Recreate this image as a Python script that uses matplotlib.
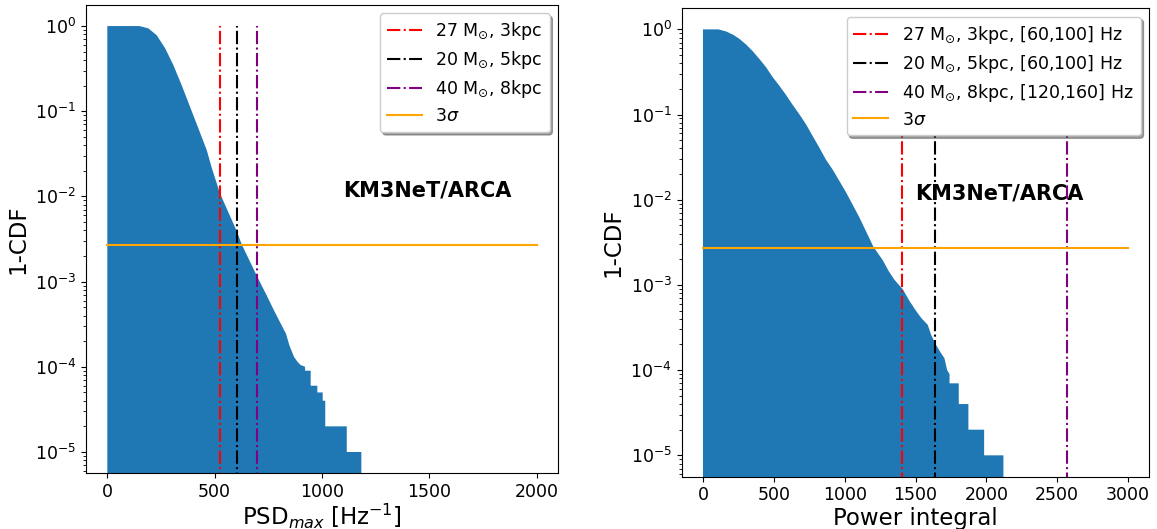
import matplotlib
matplotlib.use("Agg")
import matplotlib.pyplot as plt

# ---- data (1-CDF curves, outline vertices) ----
psd_x = [0, 150, 191, 230, 269, 307, 346, 385, 424, 463, 486, 525, 603, 626,
         699, 742, 776, 804, 832, 848, 870, 885, 900, 921, 921, 947, 947,
         978, 978, 1003, 1003, 1015, 1015, 1115, 1115, 1183]
psd_surv = [1.0, 1.0, 0.94, 0.78, 0.55, 0.35, 0.203, 0.113, 0.063, 0.035,
            0.0218, 0.0108, 0.0039, 0.00273, 0.00113, 6.9e-4, 4.6e-4, 3.35e-4,
            2.45e-4, 1.78e-4, 1.3e-4, 1.15e-4, 1.05e-4, 1.0e-4, 9e-5, 9e-5,
            6e-5, 6e-5, 5e-5, 5e-5, 4e-5, 4e-5, 2e-5, 2e-5, 1e-5, 1e-5]

pow_x = [0, 110, 164, 210, 257, 304, 351, 398, 445, 492, 539, 586, 633, 680,
         727, 774, 821, 868, 916, 1010, 1104, 1203, 1269, 1311, 1351, 1410,
         1457, 1504, 1540, 1586, 1610, 1643, 1680, 1704, 1723, 1740, 1740,
         1805, 1805, 1873, 1873, 1984, 1984, 2120]
pow_surv = [1.0, 1.0, 0.945, 0.87, 0.775, 0.665, 0.555, 0.45, 0.36, 0.275,
            0.218, 0.17, 0.13, 0.101, 0.077, 0.056, 0.041, 0.0295, 0.0225,
            0.0122, 6.2e-3, 2.8e-3, 1.95e-3, 1.45e-3, 1.15e-3, 8.9e-4, 6.5e-4,
            4.95e-4, 4.1e-4, 3.4e-4, 2.6e-4, 2.0e-4, 1.58e-4, 1.38e-4, 1.0e-4,
            9e-5, 7e-5, 7e-5, 4e-5, 4e-5, 2e-5, 2e-5, 1e-5, 1e-5]

psd_signal = [525, 603, 697]
pow_signal = [1408, 1640, 2566]
signal_colors = ["red", "black", "purple"]
psd_labels = [r"27 M$_{\odot}$, 3kpc", r"20 M$_{\odot}$, 5kpc",
              r"40 M$_{\odot}$, 8kpc"]
pow_labels = [r"27 M$_{\odot}$, 3kpc, [60,100] Hz",
              r"20 M$_{\odot}$, 5kpc, [60,100] Hz",
              r"40 M$_{\odot}$, 8kpc, [120,160] Hz"]
three_sigma = 1 - 0.9973
psd_range = [0, 2000]
pow_range = [0, 3000]
psd_ticks = [0, 500, 1000, 1500, 2000]
pow_ticks = [0, 500, 1000, 1500, 2000, 2500, 3000]

YMIN, YMAX = 10 ** -5.25, 10 ** 0.25

fig = plt.figure(figsize=(11.57, 5.29), dpi=100)
ax1 = fig.add_axes([0.0742, 0.1053, 0.4083, 0.8857])
ax2 = fig.add_axes([0.5892, 0.0990, 0.4042, 0.8857])


def panel(ax, x, surv, sig, labels, xr, ticks, xlabel, tx, lpad):
    ax.set_yscale("log")
    ax.fill_between(x, surv, 1e-8, color="#1f77b4", linewidth=0)
    for xs, c, lab in zip(sig, signal_colors, labels):
        ax.plot([xs, xs], [1e-8, 1.0], color=c, linestyle="-.", lw=1.5,
                label=lab)
    ax.plot(xr, [three_sigma, three_sigma], color="orange", lw=1.5,
            label=r"3$\sigma$")
    ax.set_ylim(YMIN, YMAX)
    span = xr[1] - xr[0]
    ax.set_xlim(xr[0] - 0.05 * span, xr[1] + 0.05 * span)
    ax.set_xticks(ticks)
    ax.tick_params(labelsize=12.5)
    ax.set_xlabel(xlabel, fontsize=16.5, labelpad=lpad)
    ax.set_ylabel("1-CDF", fontsize=16.5)
    ax.text(tx, 1e-2, "KM3NeT/ARCA", fontsize=15, fontweight="bold")
    ax.legend(loc="upper right", shadow=True, fontsize=12.5,
              labelspacing=0.4)


panel(ax1, psd_x, psd_surv, psd_signal, psd_labels, psd_range, psd_ticks,
      r"PSD$_{max}$ [Hz$^{-1}$]", 1100, 0.5)
panel(ax2, pow_x, pow_surv, pow_signal, pow_labels, pow_range, pow_ticks,
      "Power integral", 1500, 2)

fig.savefig("out.png", dpi=100)
